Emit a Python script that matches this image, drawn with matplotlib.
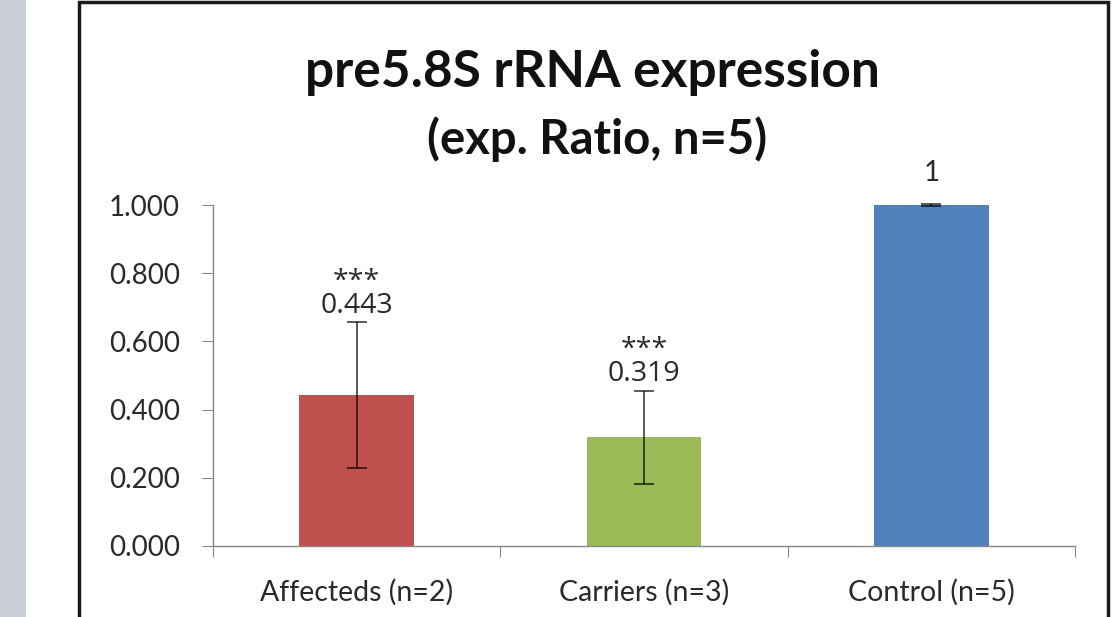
import matplotlib
matplotlib.use("Agg")
import matplotlib.pyplot as plt
from matplotlib.patches import Rectangle
import numpy as np

categories = ["Affecteds (n=2)", "Carriers (n=3)", "Control (n=5)"]
values = [0.443, 0.319, 1.0]
errors = [0.213, 0.137, 0.002]
value_labels = ["0.443", "0.319", "1"]
stars = ["***", "***", ""]
colors = ["#C0504D", "#9BBB59", "#4F81BD"]
yticks = [0.0, 0.2, 0.4, 0.6, 0.8, 1.0]
ytick_labels = ["0.000", "0.200", "0.400", "0.600", "0.800", "1.000"]
title = "pre5.8S rRNA expression"
subtitle = "(exp. Ratio, n=5)"

W, H = 1114, 617
fig = plt.figure(figsize=(W / 100, H / 100), dpi=100)
plt.rcParams['font.family'] = ['Lato', 'DejaVu Sans']
txt = "#2a2a2a"

# background decorations: gray side band and black frame
fig.patches.append(Rectangle((0, 0), 26 / W, 1, transform=fig.transFigure,
                             facecolor="#c9cdd7", edgecolor="none", zorder=-10))
fig.patches.append(Rectangle((79 / W, -0.05), (1108 - 79) / W, (617 - 2) / H + 0.05,
                             transform=fig.transFigure, facecolor="white",
                             edgecolor="#1a1a1a", linewidth=2.5, zorder=-10))

ax = fig.add_axes([213 / W, (617 - 546) / H, (1075 - 213) / W, (546 - 205) / H])
ax.set_zorder(5)
ax.set_facecolor("none")
x = np.arange(len(categories))
ax.bar(x, values, width=0.4, color=colors, zorder=2, clip_on=False)
ax.errorbar(x, values, yerr=errors, fmt="none", ecolor="#000000", alpha=0.7,
            elinewidth=1.3, capsize=7, capthick=1.3, zorder=3, clip_on=False)

ax.set_xlim(-0.5, 2.5)
ax.set_ylim(0, 1.0)
ax.set_yticks(yticks)
ax.set_yticklabels(ytick_labels, fontsize=20, color=txt)
ax.set_xticks([-0.5, 0.5, 1.5, 2.5], minor=False)
ax.set_xticklabels([])
ax.set_xticks(x, minor=True)
ax.set_xticklabels(categories, minor=True, fontsize=20.5, color=txt)
ax.tick_params(axis="x", which="minor", length=0, pad=24)
ax.tick_params(axis="x", which="major", length=8, color="#888888", direction="out")
ax.tick_params(axis="y", length=8, color="#888888", direction="out", pad=16)
for s in ["top", "right"]:
    ax.spines[s].set_visible(False)
for s in ["left", "bottom"]:
    ax.spines[s].set_color("#888888")
    ax.spines[s].set_linewidth(1.0)

for xi, v, e, lab, st in zip(x, values, errors, value_labels, stars):
    top = v + e
    if st:
        ax.annotate(st + "\n" + lab, (xi, top), xytext=(0, 2), textcoords="offset points",
                    ha="center", va="bottom", multialignment="center", linespacing=0.8,
                    fontsize=20.5, family=["Open Sans", "DejaVu Sans"], color=txt,
                    annotation_clip=False)
    else:
        ax.annotate(lab, (xi, top), xytext=(0, 13), textcoords="offset points",
                    ha="center", va="bottom", fontsize=20, color=txt, annotation_clip=False)

fig.text(592 / W, 1 - 72 / H, title, ha="center", va="center", fontsize=37,
         fontweight="bold", color="#111111")
fig.text(597 / W, 1 - 139 / H, subtitle, ha="center", va="center", fontsize=34,
         fontweight="bold", color="#111111")

fig.savefig("out.png", dpi=100)
